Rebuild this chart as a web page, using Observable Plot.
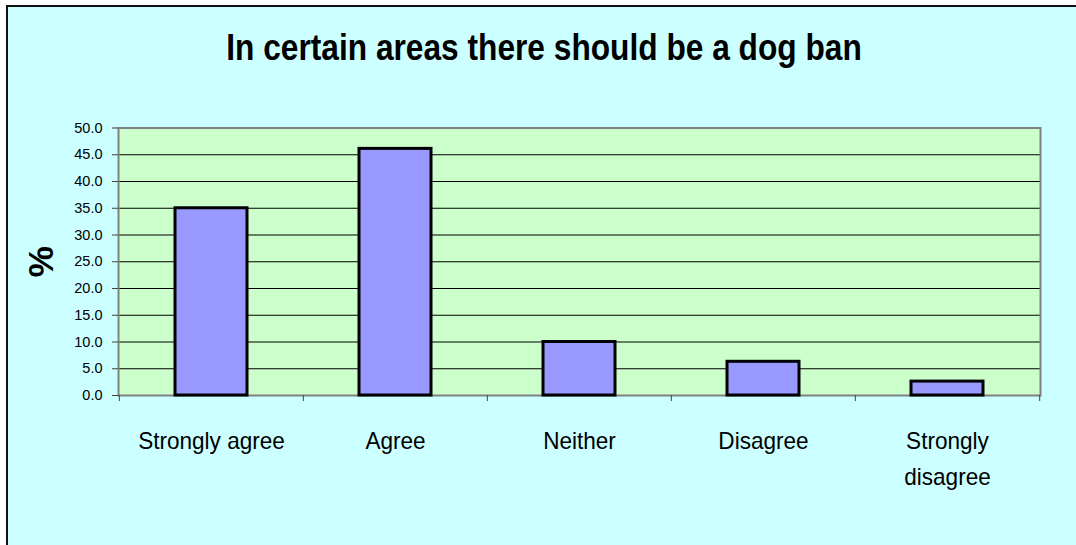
<!DOCTYPE html>
<html>
<head>
<meta charset="utf-8">
<script src="https://cdn.jsdelivr.net/npm/d3@7"></script>
<script src="https://cdn.jsdelivr.net/npm/@observablehq/plot@0.6"></script>
<style>
  html, body { margin: 0; padding: 0; background: #ffffff; overflow: hidden; width: 1076px; height: 545px; }
  #frame { position: absolute; left: 6px; top: 5px; width: 1200px; height: 700px;
           border-top: 2px solid #111; border-left: 2px solid #111; background: #CCFFFF; }
  #title { position: absolute; left: 0; top: 30px; width: 1088px; text-align: center;
           font-family: "Liberation Sans", Arial, sans-serif; font-weight: bold; font-size: 36px;
           line-height: 36px; color: #000; transform: scaleX(0.88); transform-origin: 544px 50%; white-space: nowrap; }
  #chart { position: absolute; left: 0; top: 0; }
</style>
</head>
<body>
<div id="frame"></div>
<div id="title">In certain areas there should be a dog ban</div>
<div id="chart"></div>
<script>
const categories = ["Strongly agree", "Agree", "Neither", "Disagree", "Strongly disagree"];
const values = [35.0, 46.1, 10.0, 6.3, 2.6];
const tickLabels = ["Strongly agree", "Agree", "Neither", "Disagree", "Strongly\ndisagree"];
const yTicks = [0, 5, 10, 15, 20, 25, 30, 35, 40, 45, 50];
const gridValues = [5, 10, 15, 20, 25, 30, 35, 40, 45];
const yLabel = "%";

const data = categories.map((c, i) => ({category: c, value: values[i]}));

const W = 1076, H = 545;
const mL = 118, mR = 36, mT = 127.5, mB = 150;
const bw = (W - mL - mR) / categories.length;

const plot = Plot.plot({
  width: W,
  height: H,
  marginLeft: mL,
  marginRight: mR,
  marginTop: mT,
  marginBottom: mB,
  style: {background: "transparent", fontFamily: "'Liberation Sans', Arial, sans-serif", color: "#000"},
  x: {domain: categories, paddingInner: 0.61, paddingOuter: 0.305},
  y: {domain: [0, 50]},
  marks: [
    Plot.frame({fill: "#CCFFCC", stroke: null}),
    Plot.ruleY(gridValues, {stroke: "#000", strokeWidth: 1}),
    Plot.frame({stroke: "#808080", strokeWidth: 2}),
    Plot.barY(data, {x: "category", y: "value", fill: "#9999FF", stroke: "#000", strokeWidth: 3, strokeLinejoin: "miter"}),
    Plot.ruleX(categories, {x: d => d, y1: 0, y2: 0, insetBottom: -6, dx: -bw / 2, stroke: "#404040", strokeWidth: 1}),
    Plot.ruleX(categories.slice(-1), {x: d => d, y1: 0, y2: 0, insetBottom: -6, dx: bw / 2, stroke: "#404040", strokeWidth: 1}),
    Plot.axisY({ticks: yTicks, tickFormat: d => d.toFixed(1), tickSize: 6, tickPadding: 10,
                fontSize: 14.5, stroke: "#404040", label: null}),
    Plot.axisX({tickSize: 0, tickPadding: 28, fontSize: 24, lineHeight: 1.5,
                tickFormat: d => tickLabels[categories.indexOf(d)], label: null,
                className: "xlabels"}),
    Plot.text([yLabel], {frameAnchor: "left", text: d => d, dx: -77, rotate: -90,
                textAnchor: "middle", lineAnchor: "middle",
                fontSize: 35, fontWeight: "bold", fill: "#000"})
  ]
});
document.getElementById("chart").appendChild(plot);

// condense x tick labels slightly, like the original rendering
plot.querySelectorAll("g[aria-label='x-axis tick label'] text").forEach(t => {
  const spans = t.querySelectorAll("tspan");
  const targets = spans.length ? Array.from(spans) : [t];
  targets.forEach(el => {
    const len = el.getComputedTextLength();
    el.setAttribute("textLength", (len * 0.94).toFixed(1));
    el.setAttribute("lengthAdjust", "spacingAndGlyphs");
  });
});
</script>
</body>
</html>
